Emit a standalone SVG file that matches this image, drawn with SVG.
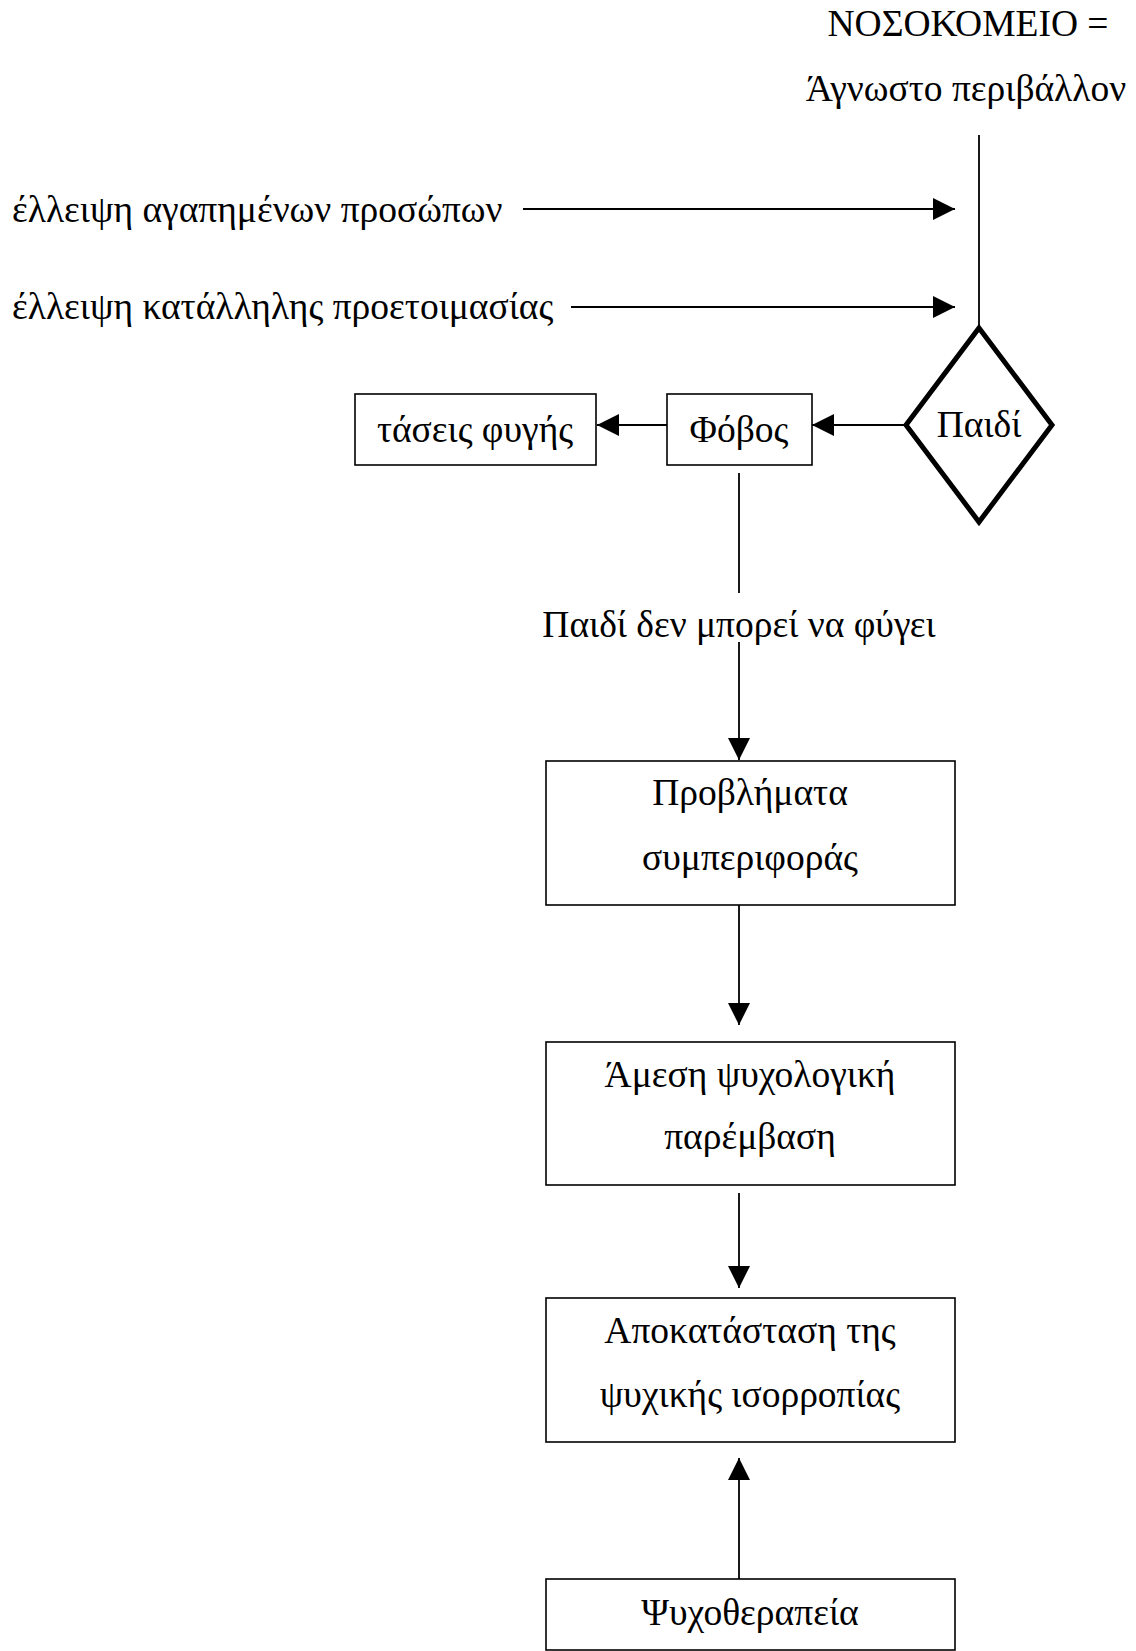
<svg xmlns="http://www.w3.org/2000/svg" width="1136" height="1651" viewBox="0 0 1136 1651">
<defs>
<style>
text{font-family:"Liberation Serif","Times New Roman",serif;font-size:37.5px;fill:#000}
.c{text-anchor:middle}
.box{fill:#fff;stroke:#000;stroke-width:1.6}
.ln{stroke:#000;stroke-width:1.8;fill:none}
</style>
<marker id="ah" markerUnits="userSpaceOnUse" markerWidth="22" markerHeight="22" viewBox="0 0 20 20" refX="20" refY="10" orient="auto">
<path d="M0,0 L20,10 L0,20 Z" fill="#000"/>
</marker>
</defs>
<rect width="1136" height="1651" fill="#fff"/>
<g id="title">
<text class="c" x="968" y="36">ΝΟΣΟΚΟΜΕΙΟ =</text>
<text class="c" x="966" y="101">Άγνωστο περιβάλλον</text>
</g>
<g id="label-agapimenon"><text x="12" y="222">έλλειψη αγαπημένων προσώπων</text></g>
<g id="label-proetoimasias"><text x="12" y="319">έλλειψη κατάλληλης προετοιμασίας</text></g>
<g id="connectors">
<line class="ln" x1="979" y1="135" x2="979" y2="328"/>
<line class="ln" x1="523" y1="209" x2="955" y2="209" marker-end="url(#ah)"/>
<line class="ln" x1="571" y1="307" x2="955" y2="307" marker-end="url(#ah)"/>
<line class="ln" x1="905" y1="425" x2="812" y2="425" marker-end="url(#ah)"/>
<line class="ln" x1="667" y1="425" x2="597" y2="425" marker-end="url(#ah)"/>
<line class="ln" x1="739" y1="473" x2="739" y2="593"/>
<line class="ln" x1="739" y1="642" x2="739" y2="760" marker-end="url(#ah)"/>
<line class="ln" x1="739" y1="905" x2="739" y2="1025" marker-end="url(#ah)"/>
<line class="ln" x1="739" y1="1193" x2="739" y2="1288" marker-end="url(#ah)"/>
<line class="ln" x1="739" y1="1579" x2="739" y2="1458" marker-end="url(#ah)"/>
<text class="c" x="739" y="637">Παιδί δεν μπορεί να φύγει</text>
</g>
<g id="paidi">
<polygon points="979,328 1052,425 979,522 906,425" fill="#fff" stroke="#000" stroke-width="5"/>
<text class="c" x="979" y="437">Παιδί</text>
</g>
<g id="fovos">
<rect class="box" x="667" y="394" width="145" height="71"/>
<text class="c" x="739" y="442">Φόβος</text>
</g>
<g id="taseis">
<rect class="box" x="355" y="394" width="241" height="71"/>
<text class="c" x="475" y="442">τάσεις φυγής</text>
</g>
<g id="provlimata">
<rect class="box" x="546" y="761" width="409" height="144"/>
<text class="c" x="750" y="805">Προβλήματα</text>
<text class="c" x="750" y="870">συμπεριφοράς</text>
</g>
<g id="amesi">
<rect class="box" x="546" y="1042" width="409" height="143"/>
<text class="c" x="750" y="1087">Άμεση ψυχολογική</text>
<text class="c" x="750" y="1149">παρέμβαση</text>
</g>
<g id="apokatastasi">
<rect class="box" x="546" y="1298" width="409" height="144"/>
<text class="c" x="750" y="1343">Αποκατάσταση της</text>
<text class="c" x="750" y="1407">ψυχικής ισορροπίας</text>
</g>
<g id="psychotherapeia">
<rect class="box" x="546" y="1579" width="409" height="71"/>
<text class="c" x="750" y="1625">Ψυχοθεραπεία</text>
</g>
</svg>
